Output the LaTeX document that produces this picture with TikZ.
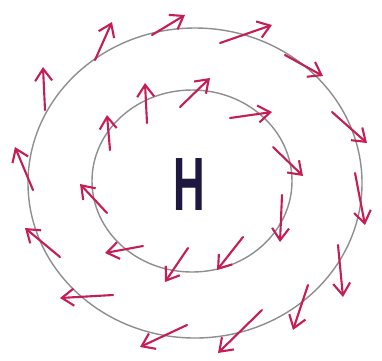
\documentclass[tikz,border=0pt]{standalone}
\usepackage{fontspec}
\setmainfont{Liberation Sans}
\usetikzlibrary{arrows.meta}
\definecolor{cisobara}{HTML}{8E8E8E}
\definecolor{cviento}{HTML}{C41E55}
\definecolor{cletra}{HTML}{1E1840}
\tikzset{
  isobara/.style={draw=cisobara,line width=0.8pt},
  viento/.style={-{Straight Barb[length=2.4mm,width=3.4mm,line width=1.2pt]},
                 draw=cviento,line width=1.2pt,line cap=round},
  letra/.style={text=cletra,font=\bfseries\fontsize{43}{43}\selectfont,xscale=0.58,inner sep=0pt},
}
\begin{document}
\begin{tikzpicture}[x=0.02cm,y=-0.02cm]
\useasboundingbox (0,0) rectangle (382,360);

% isobaras
\draw[isobara] (195,183) ellipse [x radius=167,y radius=155];
\draw[isobara] (192,181) ellipse [x radius=100,y radius=91];

\node[letra] (alta) at (189,184) {H};

% viento sobre la isobara exterior, sentido horario
\draw[viento] (33,190) -- (15,147);
\draw[viento] (45,110) -- (43,67);
\draw[viento] (95,60) -- (112,22);
\draw[viento] (152,35) -- (185,15);
\draw[viento] (220,43) -- (272,25);
\draw[viento] (285,55) -- (323,76);
\draw[viento] (332,112) -- (367,143);
\draw[viento] (355,173) -- (365,225);
\draw[viento] (338,245) -- (343,297);
\draw[viento] (308,285) -- (293,330);
\draw[viento] (262,310) -- (218,353);
\draw[viento] (187,325) -- (140,347);
\draw[viento] (113,295) -- (60,298);
\draw[viento] (60,257) -- (25,228);

% viento sobre la isobara interior
\draw[viento] (110,150) -- (107,115);
\draw[viento] (147,123) -- (145,83);
\draw[viento] (180,107) -- (210,78);
\draw[viento] (230,118) -- (272,112);
\draw[viento] (273,147) -- (303,176);
\draw[viento] (282,195) -- (280,242);
\draw[viento] (243,237) -- (217,270);
\draw[viento] (188,248) -- (165,282);
\draw[viento] (143,246) -- (105,253);
\draw[viento] (107,213) -- (80,184);

\end{tikzpicture}
\end{document}
